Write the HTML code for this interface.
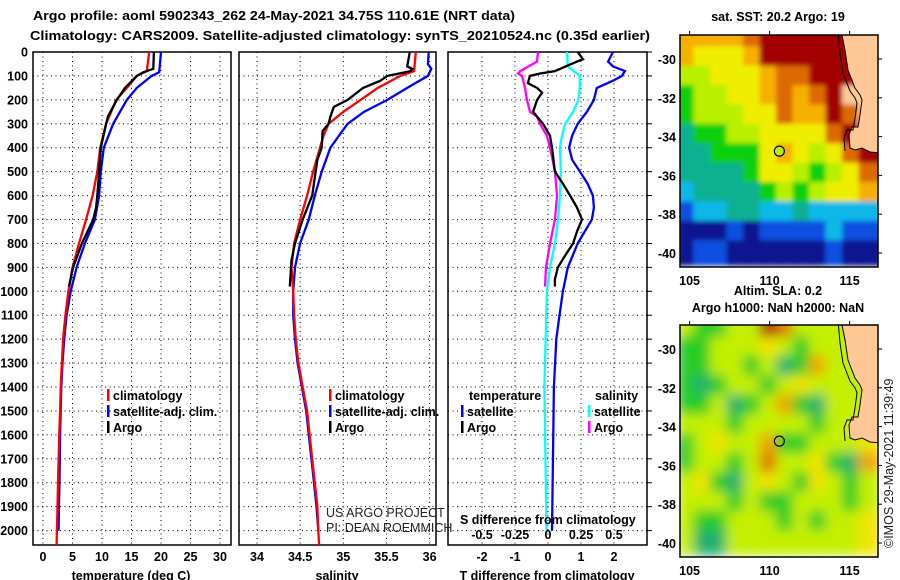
<!DOCTYPE html>
<html><head><meta charset="utf-8"><style>
html,body{margin:0;padding:0;background:#fff;width:900px;height:580px;overflow:hidden}
svg{position:absolute;left:0;top:0}
text{font-family:"Liberation Sans",Arial,sans-serif;font-weight:bold;font-size:12.5px;fill:#000}
.n{font-weight:normal;fill:#222}
</style></head><body>
<svg id="chart" width="900" height="580" viewBox="0 0 900 580">
<defs>
<filter id="b1" x="-5%" y="-5%" width="110%" height="110%"><feGaussianBlur stdDeviation="2.5"/></filter>
<filter id="b2" x="-5%" y="-5%" width="110%" height="110%"><feGaussianBlur stdDeviation="6"/></filter>
<clipPath id="c1"><rect x="680" y="35" width="198" height="232"/></clipPath>
<clipPath id="c2"><rect x="680" y="325" width="198" height="232"/></clipPath>
</defs>
<text x="274" y="20" text-anchor="middle" font-size="14.5" textLength="482" lengthAdjust="spacingAndGlyphs">Argo profile: aoml 5902343_262 24-May-2021 34.75S 110.61E (NRT data)</text>
<text x="340" y="40" text-anchor="middle" font-size="14.5" textLength="620" lengthAdjust="spacingAndGlyphs">Climatology: CARS2009. Satellite-adjusted climatology: synTS_20210524.nc (0.35d earlier)</text>
<g id="grids"></g>
<g id="series"></g>
<g id="maps"></g>
<g id="labels"></g>
<text x="778" y="21" text-anchor="middle">sat. SST: 20.2 Argo: 19</text>
<text x="778" y="295" text-anchor="middle">Altim. SLA: 0.2</text>
<text x="778" y="312" text-anchor="middle">Argo h1000: NaN h2000: NaN</text>
<text class="n" x="0" y="0" transform="translate(893,548) rotate(-90)" font-size="12">©IMOS 29-May-2021 11:39:49</text>
<text class="n" x="326" y="517" font-size="12.5">US ARGO PROJECT</text>
<text class="n" x="326" y="532" font-size="12.5">PI: DEAN ROEMMICH</text>
<text x="460" y="524">S difference from climatology</text>
<text x="131" y="580" text-anchor="middle">temperature (deg C)</text>
<text x="337" y="580" text-anchor="middle">salinity</text>
<text x="547" y="580" text-anchor="middle">T difference from climatology</text>
</svg>
<script>
// ---- profile data ----
const tRedDepth=[0,80,100,150,200,300,400,500,600,700,800,900,1000,1100,1200,1300,1400,1500,1600,1700,1800,1900,2000,2060];
const tRed=[18.0,17.6,15.9,14.2,12.4,10.7,9.7,9.2,8.4,7.3,6.1,5.0,4.3,3.8,3.4,3.2,3.0,2.9,2.75,2.65,2.55,2.45,2.35,2.3];
const tBlueDepth=[0,85,100,150,200,300,400,500,600,700,800,900,1000,1100,1200,1300,1400,1500,1600,1700,1800,1900,2000];
const tBlue=[20.0,19.7,18.4,15.9,14.2,11.9,10.3,9.8,9.5,8.8,7.1,5.7,4.7,4.0,3.6,3.3,3.1,3.0,2.9,2.85,2.8,2.7,2.65];
const tArgoDepth=[0,70,85,100,150,200,270,300,400,500,600,650,700,800,900,980];
const tArgo=[18.8,18.7,17.0,15.9,13.9,12.5,11.0,10.7,9.8,9.5,9.2,9.0,8.5,6.6,5.1,4.4];
const sRedDepth=[0,80,100,150,200,250,300,350,400,500,600,700,800,900,1000,1100,1200,1300,1400,1500,1600,1700,1800,1900,2000,2060];
const sRed=[35.84,35.82,35.66,35.40,35.20,35.00,34.83,34.77,34.73,34.65,34.58,34.50,34.43,34.40,34.42,34.43,34.45,34.48,34.53,34.58,34.61,34.64,34.67,34.70,34.71,34.72];
const sBlueDepth=[0,50,70,100,150,200,250,300,400,500,600,700,800,900,1000,1100,1200,1300,1400,1500,1600,1700,1800,1900,2000];
const sBlue=[35.99,35.98,36.02,35.98,35.74,35.51,35.24,35.05,34.85,34.75,34.67,34.60,34.50,34.44,34.42,34.42,34.44,34.47,34.52,34.57,34.60,34.63,34.66,34.69,34.71];
const sArgoDepth=[0,60,70,80,100,120,150,200,230,270,300,330,400,450,600,700,800,870,980];
const sArgo=[35.77,35.74,35.80,35.78,35.51,35.43,35.23,35.05,34.89,34.85,34.83,34.76,34.75,34.70,34.64,34.53,34.44,34.40,34.38];
const dtSatDepth=[0,40,60,80,100,120,150,200,250,300,350,400,450,500,550,600,650,700,800,900,1000,1100,1200,1400,2000];
const dtSat=[1.97,1.82,1.97,2.33,2.24,1.97,1.48,1.39,1.18,0.9,0.73,0.64,0.73,0.97,1.2,1.36,1.39,1.33,0.9,0.6,0.45,0.35,0.25,0.18,0.12];
const dtArgoDepth=[0,30,40,80,90,100,130,150,170,200,250,300,350,400,500,550,600,650,700,750,800,850,900,950,980];
const dtArgo=[0.9,1.06,0.88,0.21,-0.24,-0.55,-0.61,-0.33,-0.18,-0.33,-0.45,-0.15,0.06,0.12,0.21,0.45,0.67,0.88,1.03,0.88,0.76,0.52,0.3,0.21,0.21];
const dsSatDepth=[0,60,100,150,200,250,300,350,400,500,600,700,800,900,1000,1400,2000];
const dsSat=[0.144,0.15,0.24,0.24,0.23,0.19,0.13,0.106,0.09,0.098,0.09,0.076,0.053,0.015,-0.008,-0.027,-0.011];
const dsArgoDepth=[0,40,80,90,100,150,200,250,270,300,350,400,500,600,700,800,900,980];
const dsArgo=[-0.076,-0.083,-0.21,-0.227,-0.197,-0.174,-0.159,-0.136,-0.083,-0.061,-0.008,0.015,0.053,0.068,0.053,0.015,-0.015,-0.023];
const depthTicks=[0,100,200,300,400,500,600,700,800,900,1000,1100,1200,1300,1400,1500,1600,1700,1800,1900,2000];
const tTicks=[0,5,10,15,20,25,30];
const sTicks=[34,34.5,35,35.5,36];
const sTickLabels=["34","34.5","35","35.5","36"];
const dtTicks=[-2,-1,0,1,2];
const dsTicks=[-0.5,-0.25,0,0.25,0.5];
const dsTickLabels=["-0.5","-0.25","0","0.25","0.5"];
// ---- map data (1-degree cells, rows lat -29..-40, cols lon 105..116) ----
const sstGrid=[
"77778999999L","766679999999","556667889999","4556678789LL",
"45556687798L","34455666689L","334446765689","333346654568",
"233334545667","122332232222","000101111211","011000000100"];
const slaGrid=[
"544559855555","445556545555","445545347555","434554565555",
"445345743555","555455554556","456557445556","455458556437",
"564356546545","555454455545","544555454556","533555555556"];
const sstPalette={"0":"#0a1690","1":"#1050e0","2":"#10b8e8","3":"#10b090","4":"#10d010","5":"#b8f000","6":"#f0ee00","7":"#f5b000","8":"#dd6a00","9":"#a30000","L":"#ffc896"};
const slaPalette={"3":"#20b070","4":"#28cc28","5":"#c4f000","6":"#f0e400","7":"#f0a400","8":"#e07000","9":"#a00000","L":"#ffc896"};

const NS="http://www.w3.org/2000/svg";
function mk(tag,attrs,parent){const e=document.createElementNS(NS,tag);for(const k in attrs)e.setAttribute(k,attrs[k]);parent.appendChild(e);return e;}
const y=d=>52+d*0.2393;
const xT=t=>43+t*5.9;
const xS=s=>257+(s-34)*86.3;
const xD=v=>548+v*33;
const xDS=v=>548+v*132;
const grids=document.getElementById('grids'),series=document.getElementById('series'),labels=document.getElementById('labels'),maps=document.getElementById('maps');
const panels=[{x0:33,x1:231,ticks:tTicks.map(xT),name:'temperature'},{x0:239,x1:436,ticks:sTicks.map(xS),name:'salinity'},{x0:448,x1:647,ticks:dtTicks.map(xD),name:'difference'}];
panels.forEach(p=>{
  const g=mk('g',{},grids);
  
  
  depthTicks.slice(1).forEach(d=>{const l=mk('line',{x1:p.x0,x2:p.x1,y1:y(d),y2:y(d),stroke:'#000','stroke-width':1,'stroke-dasharray':'1,3.5'},g);
    });
  p.ticks.forEach(x=>{const l=mk('line',{x1:x,x2:x,y1:52,y2:545,stroke:'#000','stroke-width':1,'stroke-dasharray':'1,3.5'},g);
    });
  const r=mk('rect',{x:p.x0,y:52,width:p.x1-p.x0,height:493,fill:'none',stroke:'#000','stroke-width':1.5},g);
  
});
depthTicks.forEach(d=>{const t=mk('text',{x:28,y:y(d)+4.5,'text-anchor':'end'},labels);t.textContent=d;
  
  const tk=mk('line',{x1:647,x2:652,y1:y(d),y2:y(d),stroke:'#000'},labels);
  });
tTicks.forEach(v=>{const t=mk('text',{x:xT(v),y:561,'text-anchor':'middle'},labels);t.textContent=v;
  });
sTicks.forEach((v,i)=>{const t=mk('text',{x:xS(v),y:561,'text-anchor':'middle'},labels);t.textContent=sTickLabels[i];
  });
dtTicks.forEach(v=>{const t=mk('text',{x:xD(v),y:561,'text-anchor':'middle'},labels);t.textContent=v;
  });
dsTicks.forEach((v,i)=>{const t=mk('text',{x:xDS(v),y:539,'text-anchor':'middle'},labels);t.textContent=dsTickLabels[i];
  });

function line(depths,vals,fx,color,name){
  const pts=depths.map((d,i)=>fx(vals[i]).toFixed(1)+','+y(d).toFixed(1)).join(' ');
  const pl=mk('polyline',{points:pts,fill:'none',stroke:color,'stroke-width':2.3,'stroke-linejoin':'miter'},series);
  
  
}
line(tBlueDepth,tBlue,xT,'#0000ff','temperature-satellite-line');
line(tRedDepth,tRed,xT,'#ff0000','temperature-climatology-line');
line(tArgoDepth,tArgo,xT,'#000','temperature-argo-line');
line(sBlueDepth,sBlue,xS,'#0000ff','salinity-satellite-line');
line(sRedDepth,sRed,xS,'#ff0000','salinity-climatology-line');
line(sArgoDepth,sArgo,xS,'#000','salinity-argo-line');
line(dtSatDepth,dtSat,xD,'#0000ff','t-diff-satellite-line');
line(dsSatDepth,dsSat,xDS,'#00ffff','s-diff-satellite-line');
line(dsArgoDepth,dsArgo,xDS,'#ff00ff','s-diff-argo-line');
line(dtArgoDepth,dtArgo,xD,'#000','t-diff-argo-line');

function legend(x,yy,color,txt,name){
  const r=mk('rect',{x:x,y:yy-11,width:2.5,height:12,fill:color},labels);
  
  const t=mk('text',{x:x+6,y:yy},labels);t.textContent=txt;
  
}
legend(107,400,'#ff0000','climatology','temp-legend-climatology');
legend(107,416,'#0000ff','satellite-adj. clim.','temp-legend-satellite');
legend(107,432,'#000','Argo','temp-legend-argo');
legend(329,400,'#ff0000','climatology','sal-legend-climatology');
legend(329,416,'#0000ff','satellite-adj. clim.','sal-legend-satellite');
legend(329,432,'#000','Argo','sal-legend-argo');
{const t=mk('text',{x:469,y:400},labels);t.textContent='temperature';}
{const t=mk('text',{x:595,y:400},labels);t.textContent='salinity';}
legend(461,416,'#0000ff','satellite','diff-legend-t-satellite');
legend(461,432,'#000','Argo','diff-legend-t-argo');
legend(588,416,'#00ffff','satellite','diff-legend-s-satellite');
legend(588,432,'#ff00ff','Argo','diff-legend-s-argo');

// ---- maps ----
const lonX=lon=>680+(lon-104.4)*16.0;
function drawMap(grid,pal,y0,clip,blur,name){
  const g=mk('g',{'clip-path':'url(#'+clip+')'},maps);
  
  
  const latY=lat=>y0+24+(-30-lat)*19.4;
  const bg=mk('g',{filter:'url(#'+blur+')'},g);
  grid.forEach((row,ri)=>{for(let ci=0;ci<row.length;ci++){
    const lat=-28.5-ri, lon=104.4+ci*16.5/16;
    const r=mk('rect',{x:lonX(lon)-3,y:latY(lat)-3,width:16.5+6,height:19.4+6,fill:pal[row[ci]]},bg);
    
  }});
  const land=[[842,0],[900,0],[900,120],[870,117],[862,113],[855,115],[850,113],[849,100],[852,92],[858,92],[860,80],[862,65],[860,60],[855,53],[848,35],[845,15]];
  const lp=mk('polygon',{points:land.map(p=>p[0]+','+(p[1]+y0)).join(' '),fill:'#ffc896',stroke:'#000','stroke-width':1},g);
  
  const c=land.slice(6).map(p=>(p[0]-5)+','+(p[1]+y0+3)).join(' ');
  const cl=mk('polyline',{points:c+' 838,'+(y0-5),fill:'none',stroke:'#000','stroke-width':1},g);
  
  const dot=mk('circle',{cx:lonX(110.61),cy:latY(-34.75),r:5,fill:blur==='b1'?'#b8f000':'none',stroke:'#000','stroke-width':1.2},g);
  
  const fr=mk('rect',{x:680,y:y0,width:198,height:232,fill:'none',stroke:'#000','stroke-width':1.5},maps);
  
  [-30,-32,-34,-36,-38,-40].forEach(lat=>{
    const t=mk('text',{x:676,y:latY(lat)+5,'text-anchor':'end'},maps);t.textContent=lat;
    
    const tk=mk('line',{x1:878,x2:882,y1:latY(lat),y2:latY(lat),stroke:'#000'},maps);
    });
  [105,110,115].forEach(lon=>{
    const t=mk('text',{x:lonX(lon),y:y0+250,'text-anchor':'middle'},maps);t.textContent=lon;
    
    const tk=mk('line',{x1:lonX(lon),x2:lonX(lon),y1:y0-4,y2:y0,stroke:'#000'},maps);
    });
}
drawMap(sstGrid,sstPalette,35,'c1','b1','sst-map');
drawMap(slaGrid,slaPalette,325,'c2','b2','sla-map');
</script>
</body></html>
